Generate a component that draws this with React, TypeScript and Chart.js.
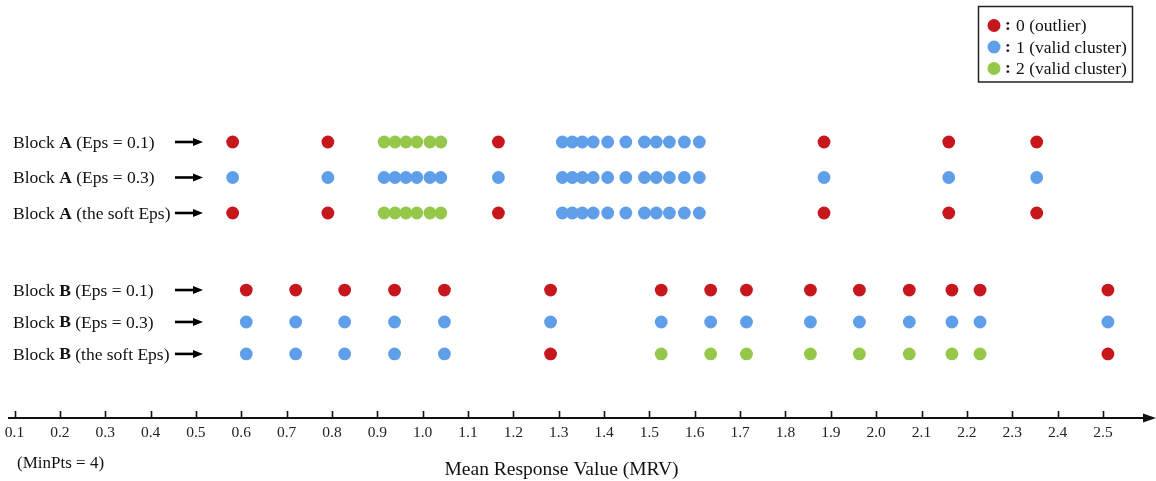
import { useEffect, useRef } from "react";
import { Chart, registerables } from "chart.js";

Chart.register(...registerables);

// ---- data ----
const rowBlocks = ["A", "A", "A", "B", "B", "B"];
const rowParams = ["(Eps = 0.1)", "(Eps = 0.3)", "(the soft Eps)", "(Eps = 0.1)", "(Eps = 0.3)", "(the soft Eps)"];
const rowLevels = [0, 1, 2, 4.17, 5.07, 5.97];

const blockAValues = [
  0.581, 0.791, 0.915, 0.939, 0.963, 0.987, 1.016, 1.04, 1.167, 1.308, 1.33, 1.352, 1.376, 1.408, 1.448,
  1.489, 1.515, 1.544, 1.577, 1.61, 1.885, 2.16, 2.354,
];
const blockBValues = [
  0.611, 0.72, 0.828, 0.938, 1.048, 1.282, 1.526, 1.635, 1.714, 1.855, 1.963, 2.073, 2.167, 2.229, 2.511,
];

const clusterAEps01 = [0, 0, 2, 2, 2, 2, 2, 2, 0, 1, 1, 1, 1, 1, 1, 1, 1, 1, 1, 1, 0, 0, 0];
const clusterAEps03 = [1, 1, 1, 1, 1, 1, 1, 1, 1, 1, 1, 1, 1, 1, 1, 1, 1, 1, 1, 1, 1, 1, 1];
const clusterASoft = [0, 0, 2, 2, 2, 2, 2, 2, 0, 1, 1, 1, 1, 1, 1, 1, 1, 1, 1, 1, 0, 0, 0];
const clusterBEps01 = [0, 0, 0, 0, 0, 0, 0, 0, 0, 0, 0, 0, 0, 0, 0];
const clusterBEps03 = [1, 1, 1, 1, 1, 1, 1, 1, 1, 1, 1, 1, 1, 1, 1];
const clusterBSoft = [1, 1, 1, 1, 1, 0, 2, 2, 2, 2, 2, 2, 2, 2, 0];

const rowValues = [blockAValues, blockAValues, blockAValues, blockBValues, blockBValues, blockBValues];
const rowClusters = [clusterAEps01, clusterAEps03, clusterASoft, clusterBEps01, clusterBEps03, clusterBSoft];

const tickValues = [
  0.1, 0.2, 0.3, 0.4, 0.5, 0.6, 0.7, 0.8, 0.9, 1.0, 1.1, 1.2, 1.3, 1.4, 1.5, 1.6, 1.7, 1.8, 1.9, 2.0, 2.1, 2.2,
  2.3, 2.4, 2.5,
];
const clusterIds = [0, 1, 2];
const legendLabels = ["0 (outlier)", "1 (valid cluster)", "2 (valid cluster)"];
const clusterColors = ["#c8161d", "#5f9ee8", "#95c84a"];
const axisTitle = "Mean Response Value (MRV)";
const noteText = "(MinPts = 4)";

const SERIF = "'Liberation Serif', 'Times New Roman', serif";

function drawArrow(ctx: CanvasRenderingContext2D, x0: number, x1: number, y: number) {
  ctx.save();
  ctx.strokeStyle = "#000";
  ctx.fillStyle = "#000";
  ctx.lineWidth = 2.6;
  ctx.beginPath();
  ctx.moveTo(x0, y);
  ctx.lineTo(x1 - 7, y);
  ctx.stroke();
  ctx.beginPath();
  ctx.moveTo(x1, y);
  ctx.lineTo(x1 - 10, y - 4);
  ctx.lineTo(x1 - 10, y + 4);
  ctx.closePath();
  ctx.fill();
  ctx.restore();
}

const decorPlugin = {
  id: "decor",
  afterDraw(chart: any) {
    const ctx: CanvasRenderingContext2D = chart.ctx;
    const xs = chart.scales.x;
    const ys = chart.scales.y;
    const axisY = chart.chartArea.bottom;

    ctx.save();
    // axis line + arrow
    ctx.strokeStyle = "#111";
    ctx.fillStyle = "#111";
    ctx.lineWidth = 2;
    ctx.beginPath();
    ctx.moveTo(8, axisY);
    ctx.lineTo(1146, axisY);
    ctx.stroke();
    ctx.beginPath();
    ctx.moveTo(1156, axisY);
    ctx.lineTo(1143, axisY - 4.5);
    ctx.lineTo(1143, axisY + 4.5);
    ctx.closePath();
    ctx.fill();
    // upward tick marks
    ctx.lineWidth = 1.6;
    tickValues.forEach((v) => {
      const px = Math.round(xs.getPixelForValue(v)) + 0.5;
      ctx.beginPath();
      ctx.moveTo(px, axisY - 7);
      ctx.lineTo(px, axisY);
      ctx.stroke();
    });

    // row labels
    ctx.fillStyle = "#111";
    ctx.textBaseline = "middle";
    ctx.textAlign = "left";
    rowBlocks.forEach((b, i) => {
      const y = ys.getPixelForValue(rowLevels[i]) + 1;
      let x = 13;
      ctx.font = `17.5px ${SERIF}`;
      ctx.fillText("Block ", x, y);
      x += ctx.measureText("Block ").width;
      ctx.font = `bold 17.5px ${SERIF}`;
      ctx.fillText(b, x, y);
      x += ctx.measureText(b).width;
      ctx.font = `17.5px ${SERIF}`;
      const rest = " " + rowParams[i];
      ctx.fillText(rest, x, y);
      x += ctx.measureText(rest).width;
      drawArrow(ctx, Math.max(x + 1, 175), 203, y - 1);
    });

    // note and title
    ctx.font = `17px ${SERIF}`;
    ctx.fillText(noteText, 17, 464);
    ctx.font = `19.5px ${SERIF}`;
    ctx.textAlign = "center";
    ctx.fillText(axisTitle, 561.5, 470);

    // legend
    ctx.textAlign = "left";
    ctx.strokeStyle = "#222";
    ctx.lineWidth = 1.5;
    ctx.strokeRect(978.5, 6.5, 154, 75.5);
    const legY = [25.5, 47, 68.5];
    clusterIds.forEach((c, i) => {
      ctx.fillStyle = clusterColors[c];
      ctx.beginPath();
      ctx.arc(994, legY[i], 6.5, 0, Math.PI * 2);
      ctx.fill();
      ctx.fillStyle = "#111";
      ctx.font = `bold 17.5px ${SERIF}`;
      ctx.fillText(":", 1005, legY[i]);
      ctx.font = `17.5px ${SERIF}`;
      ctx.fillText(legendLabels[i], 1016, legY[i] + 1);
    });
    ctx.restore();
  },
};

export default function App() {
  const ref = useRef<HTMLCanvasElement | null>(null);

  useEffect(() => {
    document.body.style.margin = "0";
    const canvas = ref.current;
    if (!canvas) return;

    const datasets = clusterIds.map((c) => {
      const pts: { x: number; y: number }[] = [];
      rowValues.forEach((vals, r) => {
        vals.forEach((v, k) => {
          if (rowClusters[r][k] === c) pts.push({ x: v, y: rowLevels[r] });
        });
      });
      return {
        label: legendLabels[c],
        data: pts,
        backgroundColor: clusterColors[c],
        borderWidth: 0,
        pointRadius: 6.4,
        pointHoverRadius: 6.4,
        pointStyle: "circle",
        clip: false,
      };
    });

    const chart = new Chart(canvas, {
      type: "scatter",
      data: { datasets },
      options: {
        responsive: false,
        animation: false,
        layout: { padding: 0, autoPadding: false },
        plugins: { legend: { display: false }, tooltip: { enabled: false } },
        scales: {
          x: {
            type: "linear",
            min: 0.068,
            max: 2.617,
            afterBuildTicks: (s: any) => {
              s.ticks = tickValues.map((v) => ({ value: v }));
            },
            afterFit: (s: any) => {
              s.height = 63;
              s.paddingLeft = 0;
              s.paddingRight = 0;
            },
            grid: { display: false, drawTicks: false },
            border: { display: false },
            ticks: {
              autoSkip: false,
              maxRotation: 0,
              padding: 6,
              color: "#222",
              font: { family: SERIF, size: 15.5 },
              callback: (v: any) => Number(v).toFixed(1),
            },
          },
          y: {
            type: "linear",
            reverse: true,
            min: -4,
            max: 7.775,
            display: false,
          },
        },
      },
      plugins: [decorPlugin],
    } as any);

    return () => chart.destroy();
  }, []);

  return (
    <div style={{ position: "absolute", left: 0, top: 0, width: 1156, height: 481 }}>
      <canvas ref={ref} width={1156} height={481} />
    </div>
  );
}
